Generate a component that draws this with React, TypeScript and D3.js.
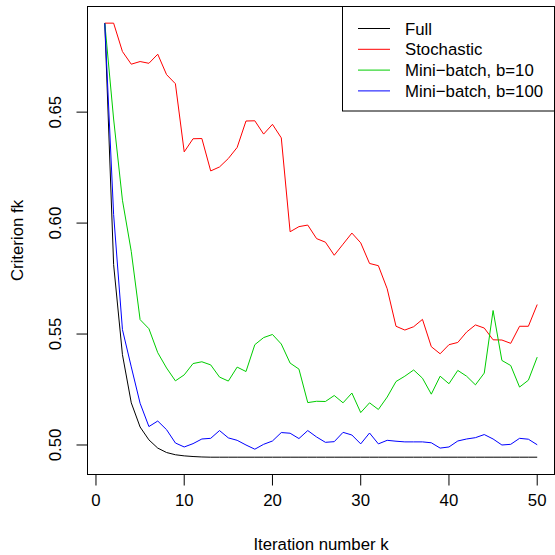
import React, { useEffect, useRef } from 'react';
import * as d3 from 'd3';

const iterations = d3.range(1, 51);

const fullValues = [
  0.6901, 0.5813, 0.5407, 0.519, 0.5081, 0.5023, 0.4986, 0.4966, 0.4956, 0.4951,
  0.4948, 0.4946, 0.4945, 0.4945, 0.4945, 0.4945, 0.4945, 0.4945, 0.4945, 0.4945,
  0.4945, 0.4945, 0.4945, 0.4945, 0.4945, 0.4945, 0.4945, 0.4945, 0.4945, 0.4945,
  0.4945, 0.4945, 0.4945, 0.4945, 0.4945, 0.4945, 0.4945, 0.4945, 0.4945, 0.4945,
  0.4945, 0.4945, 0.4945, 0.4945, 0.4945, 0.4945, 0.4945, 0.4945, 0.4945, 0.4945
];

const stochasticValues = [
  0.6901, 0.6901, 0.6773, 0.6716, 0.6728, 0.672, 0.6761, 0.6669, 0.6628, 0.6321,
  0.638, 0.6381, 0.6235, 0.6253, 0.6291, 0.6341, 0.646, 0.6461, 0.6401, 0.6445,
  0.6384, 0.5961, 0.5984, 0.5991, 0.593, 0.5914, 0.5855, 0.5905, 0.5955, 0.5911,
  0.5818, 0.5808, 0.5704, 0.5535, 0.5518, 0.5533, 0.5566, 0.5443, 0.5411, 0.5452,
  0.5462, 0.5509, 0.5541, 0.5527, 0.5474, 0.5473, 0.5458, 0.5535, 0.5535, 0.5633
];

const batch10Values = [
  0.6901, 0.6469, 0.6103, 0.5872, 0.5565, 0.5524, 0.5416, 0.5347, 0.5289, 0.5316,
  0.5367, 0.5375, 0.5361, 0.5306, 0.5288, 0.5351, 0.5331, 0.5452, 0.5484, 0.5498,
  0.5455, 0.5369, 0.5342, 0.5191, 0.5197, 0.5196, 0.5223, 0.519, 0.5234, 0.5146,
  0.519, 0.516, 0.5216, 0.5286, 0.531, 0.5338, 0.5301, 0.5229, 0.531, 0.5276,
  0.5336, 0.531, 0.5271, 0.5324, 0.5606, 0.5381, 0.5358, 0.5261, 0.5292, 0.5396
];

const batch100Values = [
  0.6901, 0.6039, 0.552, 0.5352, 0.5188, 0.5083, 0.5108, 0.5069, 0.5009, 0.4991,
  0.5006, 0.5027, 0.503, 0.5065, 0.5032, 0.5021, 0.5, 0.4981, 0.5003, 0.5018,
  0.5056, 0.5053, 0.5029, 0.5065, 0.5036, 0.5012, 0.5015, 0.5057, 0.5045, 0.5005,
  0.5054, 0.5005, 0.5021, 0.5017, 0.5014, 0.5014, 0.5014, 0.501, 0.4986, 0.4991,
  0.5018, 0.5027, 0.5033, 0.5047, 0.5027, 0.5, 0.5003, 0.503, 0.5026, 0.5001
];

const seriesNames = ['Full', 'Stochastic', 'Mini\u2212batch, b=10', 'Mini\u2212batch, b=100'];
const seriesColors = ['#000000', '#FF0000', '#00CD00', '#0000FF'];
const xTicks = [0, 10, 20, 30, 40, 50];
const yTicks = [0.5, 0.55, 0.6, 0.65];

const FONT = '"Liberation Sans", Arial, sans-serif';

export default function App() {
  const ref = useRef<SVGSVGElement | null>(null);

  useEffect(() => {
    const width = 555,
      height = 555;
    const left = 87.5,
      right = 554.5,
      top = 6.5,
      bottom = 474.5;

    const svg = d3.select(ref.current);
    svg.selectAll('*').remove();
    svg.attr('width', width).attr('height', height);

    const x = d3.scaleLinear().domain([-0.96, 51.96]).range([left, right]);
    const y = d3.scaleLinear().domain([0.4867, 0.6976]).range([bottom, top]);

    const all = [fullValues, stochasticValues, batch10Values, batch100Values];

    const line = d3
      .line<number>()
      .x((d, i) => x(iterations[i]))
      .y(d => y(d));

    all.forEach((vals, i) => {
      svg
        .append('path')
        .attr('d', line(vals))
        .attr('fill', 'none')
        .attr('stroke', seriesColors[i])
        .attr('stroke-width', 1);
    });

    // frame
    svg
      .append('rect')
      .attr('x', left)
      .attr('y', top)
      .attr('width', right - left)
      .attr('height', bottom - top)
      .attr('fill', 'none')
      .attr('stroke', '#000');

    // x axis
    const xAxis = svg.append('g').attr('transform', `translate(0,${bottom})`);
    xAxis
      .append('line')
      .attr('x1', x(xTicks[0]))
      .attr('x2', x(xTicks[xTicks.length - 1]))
      .attr('stroke', '#000');
    xTicks.forEach(t => {
      xAxis
        .append('line')
        .attr('x1', x(t))
        .attr('x2', x(t))
        .attr('y1', 0)
        .attr('y2', 11)
        .attr('stroke', '#000');
      xAxis
        .append('text')
        .attr('x', x(t))
        .attr('y', 31)
        .attr('text-anchor', 'middle')
        .attr('font-family', FONT)
        .attr('font-size', 16.8)
        .text(t);
    });

    // y axis
    const yAxis = svg.append('g').attr('transform', `translate(${left},0)`);
    yAxis
      .append('line')
      .attr('y1', y(yTicks[0]))
      .attr('y2', y(yTicks[yTicks.length - 1]))
      .attr('stroke', '#000');
    yTicks.forEach(t => {
      yAxis
        .append('line')
        .attr('x1', 0)
        .attr('x2', -11)
        .attr('y1', y(t))
        .attr('y2', y(t))
        .attr('stroke', '#000');
      yAxis
        .append('text')
        .attr('transform', `translate(-27,${y(t)}) rotate(-90)`)
        .attr('text-anchor', 'middle')
        .attr('font-family', FONT)
        .attr('font-size', 16.8)
        .text(d3.format('.2f')(t));
    });

    svg
      .append('text')
      .attr('x', (left + right) / 2)
      .attr('y', 550)
      .attr('text-anchor', 'middle')
      .attr('font-family', FONT)
      .attr('font-size', 16.8)
      .text('Iteration number k');

    svg
      .append('text')
      .attr('transform', `translate(23,${(top + bottom) / 2}) rotate(-90)`)
      .attr('text-anchor', 'middle')
      .attr('font-family', FONT)
      .attr('font-size', 16.8)
      .text('Criterion fk');

    // legend
    const lg = svg.append('g');
    lg.append('rect')
      .attr('x', 342.5)
      .attr('y', top)
      .attr('width', right - 342.5)
      .attr('height', 111 - top)
      .attr('fill', '#fff')
      .attr('stroke', '#000');
    seriesNames.forEach((name, i) => {
      const cy = 28.5 + i * 20.8;
      lg.append('line')
        .attr('x1', 358)
        .attr('x2', 390)
        .attr('y1', cy)
        .attr('y2', cy)
        .attr('stroke', seriesColors[i]);
      lg.append('text')
        .attr('x', 405)
        .attr('y', cy + 6)
        .attr('font-family', FONT)
        .attr('font-size', 16.8)
        .text(name);
    });
  }, []);

  return <svg ref={ref} style={{ position: 'absolute', left: 0, top: 0 }} />;
}
